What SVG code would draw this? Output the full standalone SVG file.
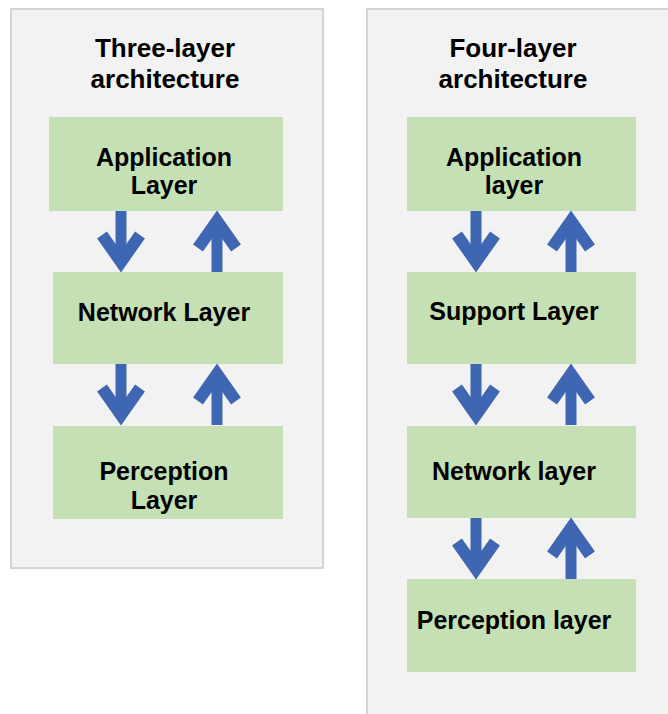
<svg xmlns="http://www.w3.org/2000/svg" width="668" height="714" viewBox="0 0 668 714">
<defs>
<style>
.panel{fill:#f2f2f2;stroke:#d4d4d4;stroke-width:2}
.box{fill:#c5e0b4}
.t{font-family:"Liberation Sans",Arial,sans-serif;font-weight:bold;fill:#000;text-anchor:middle}
.title{font-size:26px}
.lbl{font-size:25px}
.shaft{stroke:#3f66b2;stroke-width:11;fill:none}
.head{stroke:#3f66b2;stroke-width:12;fill:none;stroke-linejoin:miter;stroke-linecap:butt}
</style>
<g id="down">
<path class="shaft" d="M0 0 V50"/>
<path class="head" d="M-19 24 L0 51 L19 24"/>
</g>
<g id="up">
<path class="shaft" d="M0 61 V11"/>
<path class="head" d="M-19 37 L0 10 L19 37"/>
</g>
</defs>
<rect width="668" height="714" fill="#ffffff"/>
<g id="panel-three">
<rect class="panel" x="11" y="9" width="312" height="559"/>
<text class="t title" x="165" y="57">Three-layer</text>
<text class="t title" x="165" y="88">architecture</text>
</g>
<g id="panel-four">
<rect class="panel" x="367" y="9" width="310" height="720"/>
<text class="t title" x="513" y="57">Four-layer</text>
<text class="t title" x="513" y="88">architecture</text>
</g>
<g id="l-app">
<rect class="box" x="49" y="117" width="234" height="94"/>
<text class="t lbl" x="164" y="166">Application</text>
<text class="t lbl" x="164" y="194">Layer</text>
</g>
<g id="l-net">
<rect class="box" x="53" y="272" width="230" height="92"/>
<text class="t lbl" x="164" y="321">Network Layer</text>
</g>
<g id="l-per">
<rect class="box" x="53" y="426" width="230" height="93"/>
<text class="t lbl" x="164" y="480">Perception</text>
<text class="t lbl" x="164" y="509">Layer</text>
</g>
<g id="r-app">
<rect class="box" x="407" y="117" width="229" height="94"/>
<text class="t lbl" x="514" y="166">Application</text>
<text class="t lbl" x="514" y="194">layer</text>
</g>
<g id="r-sup">
<rect class="box" x="407" y="272" width="229" height="92"/>
<text class="t lbl" x="514" y="320">Support Layer</text>
</g>
<g id="r-net">
<rect class="box" x="407" y="426" width="229" height="92"/>
<text class="t lbl" x="514" y="480">Network layer</text>
</g>
<g id="r-per">
<rect class="box" x="407" y="579" width="229" height="93"/>
<text class="t lbl" x="514" y="629">Perception layer</text>
</g>
<g id="connectors">
<use href="#down" x="121" y="211"/>
<use href="#up" x="217" y="211"/>
<use href="#down" x="121" y="364"/>
<use href="#up" x="217" y="364"/>
<use href="#down" x="476" y="211"/>
<use href="#up" x="571" y="211"/>
<use href="#down" x="476" y="364"/>
<use href="#up" x="571" y="364"/>
<use href="#down" x="476" y="518"/>
<use href="#up" x="571" y="518"/>
</g>
</svg>
